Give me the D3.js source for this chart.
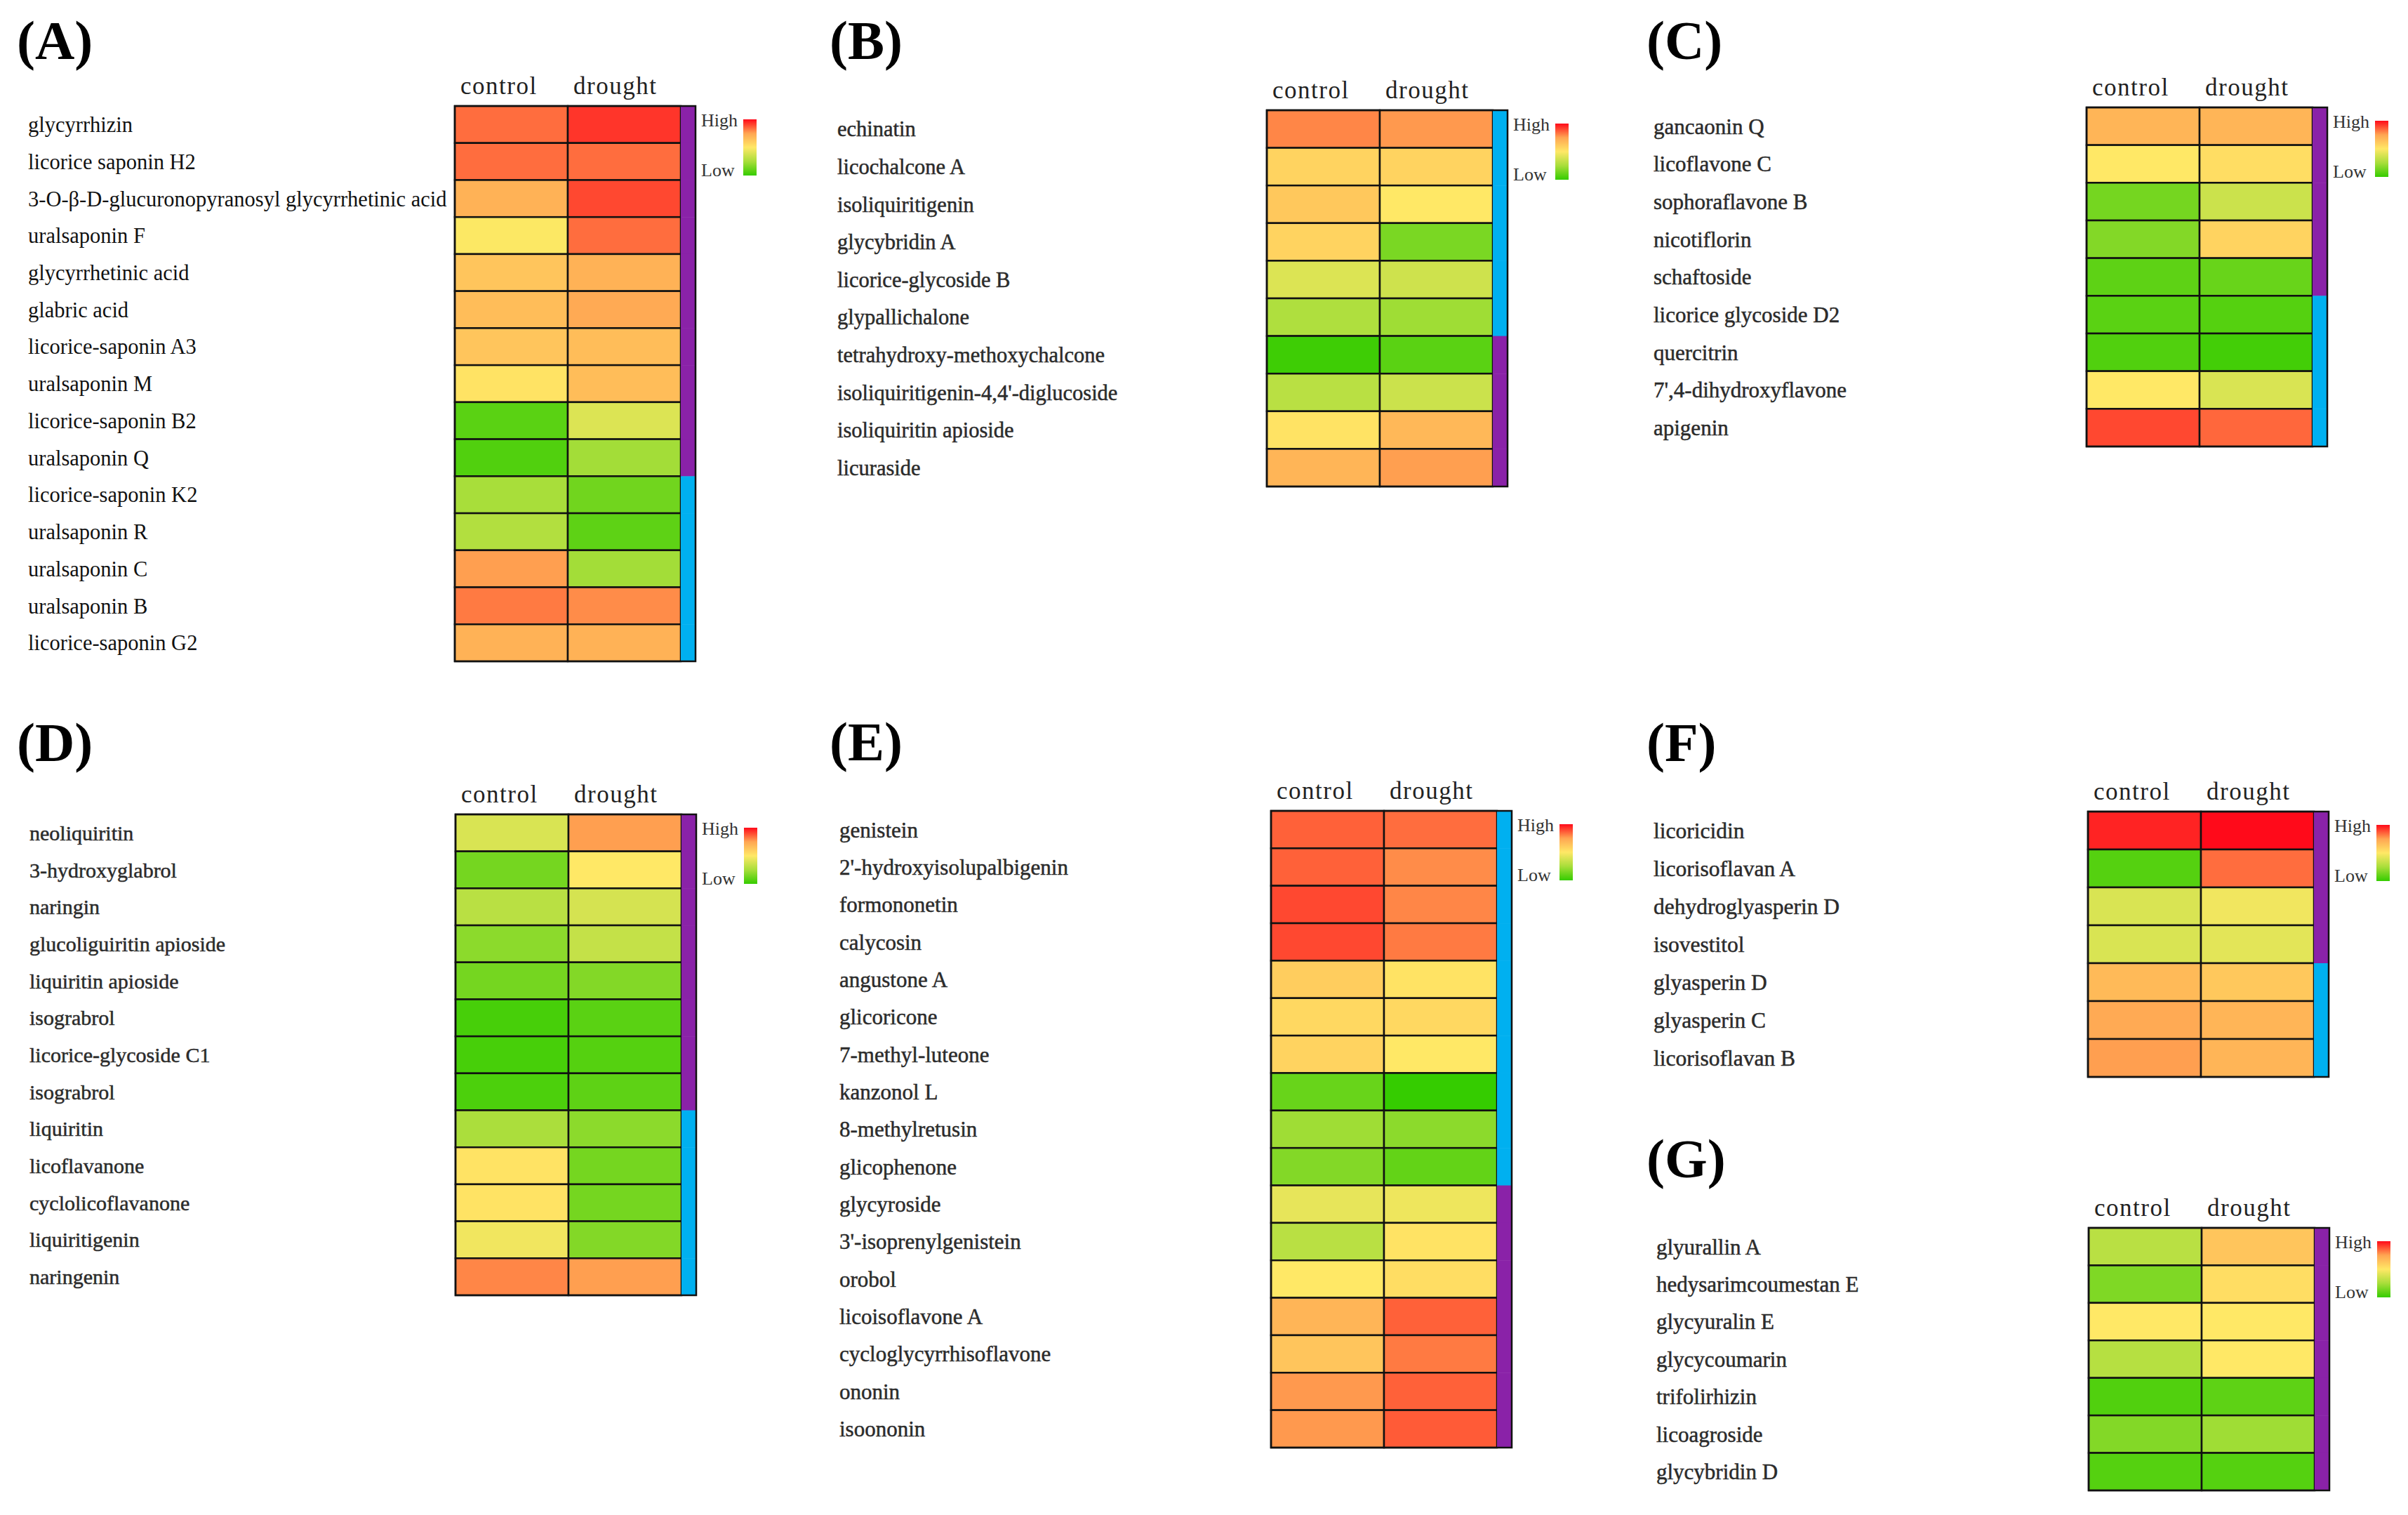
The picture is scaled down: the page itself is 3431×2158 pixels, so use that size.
<!DOCTYPE html>
<html>
<head>
<meta charset="utf-8">
<script src="https://cdn.jsdelivr.net/npm/d3@7"></script>
<style>
  html, body { margin: 0; padding: 0; background: #fff; }
  svg { display: block; }
</style>
</head>
<body>
<svg id="chart" width="3431" height="2158"></svg>
<script>
// ---------------- DATA ----------------
const conditions = ["control", "drought"];

const namesA = ["glycyrrhizin", "licorice saponin H2", "3-O-β-D-glucuronopyranosyl glycyrrhetinic acid", "uralsaponin F", "glycyrrhetinic acid", "glabric acid", "licorice-saponin A3", "uralsaponin M", "licorice-saponin B2", "uralsaponin Q", "licorice-saponin K2", "uralsaponin R", "uralsaponin C", "uralsaponin B", "licorice-saponin G2"];
const controlA = [0.84, 0.84, 0.70, 0.49, 0.63, 0.66, 0.63, 0.52, 0.08, 0.06, 0.25, 0.28, 0.76, 0.82, 0.70];
const droughtA = [0.93, 0.84, 0.90, 0.84, 0.70, 0.73, 0.66, 0.66, 0.40, 0.24, 0.13, 0.09, 0.24, 0.79, 0.70];
const groupA = ["I","I","I","I","I","I","I","I","I","I","II","II","II","II","II"];

const namesB = ["echinatin", "licochalcone A", "isoliquiritigenin", "glycybridin A", "licorice-glycoside B", "glypallichalone", "tetrahydroxy-methoxychalcone", "isoliquiritigenin-4,4'-diglucoside", "isoliquiritin apioside", "licuraside"];
const controlB = [0.80, 0.58, 0.62, 0.58, 0.40, 0.27, 0.02, 0.30, 0.52, 0.69];
const droughtB = [0.77, 0.58, 0.50, 0.15, 0.36, 0.23, 0.08, 0.35, 0.68, 0.76];
const groupB = ["II","II","II","II","II","II","I","I","I","I"];

const namesC = ["gancaonin Q", "licoflavone C", "sophoraflavone B", "nicotiflorin", "schaftoside", "licorice glycoside D2", "quercitrin", "7',4-dihydroxyflavone", "apigenin"];
const controlC = [0.69, 0.50, 0.14, 0.17, 0.09, 0.08, 0.06, 0.50, 0.90];
const droughtC = [0.69, 0.54, 0.35, 0.58, 0.11, 0.07, 0.03, 0.39, 0.85];
const groupC = ["I","I","I","I","I","II","II","II","II"];

const namesD = ["neoliquiritin", "3-hydroxyglabrol", "naringin", "glucoliguiritin apioside", "liquiritin apioside", "isograbrol", "licorice-glycoside C1", "isograbrol", "liquiritin", "licoflavanone", "cyclolicoflavanone", "liquiritigenin", "naringenin"];
const controlD = [0.39, 0.14, 0.30, 0.19, 0.14, 0.04, 0.04, 0.05, 0.26, 0.52, 0.52, 0.46, 0.80];
const droughtD = [0.76, 0.50, 0.38, 0.33, 0.17, 0.08, 0.07, 0.09, 0.19, 0.14, 0.14, 0.17, 0.76];
const groupD = ["I","I","I","I","I","I","I","I","II","II","II","II","II"];

const namesE = ["genistein", "2'-hydroxyisolupalbigenin", "formononetin", "calycosin", "angustone A", "glicoricone", "7-methyl-luteone", "kanzonol L", "8-methylretusin", "glicophenone", "glycyroside", "3'-isoprenylgenistein", "orobol", "licoisoflavone A", "cycloglycyrrhisoflavone", "ononin", "isoononin"];
const controlE = [0.86, 0.86, 0.90, 0.90, 0.60, 0.56, 0.58, 0.11, 0.23, 0.17, 0.43, 0.30, 0.50, 0.69, 0.63, 0.77, 0.77];
const droughtE = [0.84, 0.79, 0.80, 0.82, 0.52, 0.56, 0.50, 0.00, 0.19, 0.10, 0.45, 0.52, 0.54, 0.86, 0.82, 0.86, 0.87];
const groupE = ["II","II","II","II","II","II","II","II","II","II","I","I","I","I","I","I","I"];

const namesF = ["licoricidin", "licorisoflavan A", "dehydroglyasperin D", "isovestitol", "glyasperin D", "glyasperin C", "licorisoflavan B"];
const controlF = [0.96, 0.07, 0.39, 0.39, 0.67, 0.73, 0.76];
const droughtF = [1.00, 0.84, 0.46, 0.42, 0.62, 0.69, 0.69];
const groupF = ["I","I","I","I","II","II","II"];

const namesG = ["glyurallin A", "hedysarimcoumestan E", "glycyuralin E", "glycycoumarin", "trifolirhizin", "licoagroside", "glycybridin D"];
const controlG = [0.30, 0.16, 0.50, 0.29, 0.06, 0.17, 0.07];
const droughtG = [0.63, 0.54, 0.50, 0.50, 0.09, 0.23, 0.07];
const groupG = ["I","I","I","I","I","I","I"];

const legendLabels = ["High", "Low"];

// ---------------- STYLE / LAYOUT ----------------
const colorStops = [0, 0.25, 0.5, 0.75, 1];
const colorRange = ["#35cc00", "#a8de3a", "#ffe866", "#ffa552", "#ff0a1a"];
const color = d3.scaleLinear().domain(colorStops).range(colorRange).interpolate(d3.interpolateRgb);
const groupColor = d3.scaleOrdinal().domain(["I", "II"]).range(["#8a22a8", "#00b0f0"]);

const panels = [
  {id: "A", names: namesA, control: controlA, drought: droughtA, group: groupA, labelX: 40,   heatX: 648,  top: 151,  bottom: 942,  letterX: 24,   letterY: 84,   fs: 30.5, bold: false},
  {id: "B", names: namesB, control: controlB, drought: droughtB, group: groupB, labelX: 1193, heatX: 1805, top: 157,  bottom: 693,  letterX: 1182, letterY: 84,   fs: 30.5, bold: true},
  {id: "C", names: namesC, control: controlC, drought: droughtC, group: groupC, labelX: 2356, heatX: 2973, top: 153,  bottom: 636,  letterX: 2346, letterY: 84,   fs: 31, bold: true},
  {id: "D", names: namesD, control: controlD, drought: droughtD, group: groupD, labelX: 42,   heatX: 649,  top: 1160, bottom: 1845, letterX: 24,   letterY: 1084, fs: 30, bold: true},
  {id: "E", names: namesE, control: controlE, drought: droughtE, group: groupE, labelX: 1196, heatX: 1811, top: 1155, bottom: 2062, letterX: 1182, letterY: 1083, fs: 31, bold: true},
  {id: "F", names: namesF, control: controlF, drought: droughtF, group: groupF, labelX: 2356, heatX: 2975, top: 1156, bottom: 1534, letterX: 2346, letterY: 1084, fs: 31.5, bold: true},
  {id: "G", names: namesG, control: controlG, drought: droughtG, group: groupG, labelX: 2360, heatX: 2976, top: 1749, bottom: 2123, letterX: 2346, letterY: 1677, fs: 31, bold: true}
];

const cellW = 161;
const barW = 21;
const serif = "'Liberation Serif', 'DejaVu Serif', 'Times New Roman', serif";

const svg = d3.select("#chart");
svg.append("rect").attr("width", 3431).attr("height", 2158).attr("fill", "#fff");

// legend gradient
const defs = svg.append("defs");
const grad = defs.append("linearGradient").attr("id", "legendGrad")
  .attr("x1", 0).attr("y1", 1).attr("x2", 0).attr("y2", 0);
colorStops.forEach(s => grad.append("stop").attr("offset", s).attr("stop-color", color(s)));

panels.forEach(p => {
  const g = svg.append("g").attr("class", "panel-" + p.id);
  const n = p.names.length;
  const x = d3.scaleBand().domain(conditions).range([p.heatX, p.heatX + 2 * cellW]);
  const y = d3.scaleBand().domain(d3.range(n)).range([p.top, p.bottom]);
  const barX = p.heatX + 2 * cellW;

  // panel letter
  g.append("text")
    .attr("x", p.letterX).attr("y", p.letterY)
    .attr("font-family", serif).attr("font-size", 78).attr("font-weight", "bold")
    .attr("fill", "#000")
    .text("(" + p.id + ")");

  // column headers
  g.selectAll("text.hdr").data(conditions).join("text")
    .attr("class", "hdr")
    .attr("x", d => x(d) + 8).attr("y", p.top - 17)
    .attr("font-family", serif).attr("font-size", 35)
    .attr("letter-spacing", 1.5)
    .attr("fill", "#222")
    .text(d => d);

  // row labels
  g.selectAll("text.lbl").data(p.names).join("text")
    .attr("class", "lbl")
    .attr("x", p.labelX)
    .attr("y", (d, i) => y(i) + y.bandwidth() / 2)
    .attr("dy", "0.35em")
    .attr("font-family", serif).attr("font-size", p.fs)
    .attr("fill", p.bold ? "#2b2b2b" : "#111")
    .attr("stroke", p.bold ? "#2b2b2b" : "none")
    .attr("stroke-width", p.bold ? 0.5 : 0)
    .text(d => d);

  // cells
  const cells = [];
  p.names.forEach((nm, i) => {
    cells.push({row: i, cond: "control", v: p.control[i]});
    cells.push({row: i, cond: "drought", v: p.drought[i]});
  });
  g.selectAll("rect.cell").data(cells).join("rect")
    .attr("class", "cell")
    .attr("x", d => x(d.cond)).attr("y", d => y(d.row))
    .attr("width", x.bandwidth()).attr("height", y.bandwidth())
    .attr("fill", d => color(d.v))
    .attr("stroke", "#111").attr("stroke-width", 2.5);

  // group side bar
  g.selectAll("rect.grp").data(p.group).join("rect")
    .attr("class", "grp")
    .attr("x", barX).attr("y", (d, i) => y(i))
    .attr("width", barW).attr("height", y.bandwidth() + 0.5)
    .attr("fill", d => groupColor(d));

  // outer frame
  g.append("rect")
    .attr("x", p.heatX).attr("y", p.top)
    .attr("width", 2 * cellW + barW).attr("height", p.bottom - p.top)
    .attr("fill", "none").attr("stroke", "#111").attr("stroke-width", 2.5);

  // legend
  const lx = barX + barW;
  g.append("text").attr("x", lx + 8).attr("y", p.top + 29)
    .attr("font-family", serif).attr("font-size", 26).attr("fill", "#333")
    .text(legendLabels[0]);
  g.append("text").attr("x", lx + 8).attr("y", p.top + 100)
    .attr("font-family", serif).attr("font-size", 26).attr("fill", "#333")
    .text(legendLabels[1]);
  g.append("rect").attr("x", lx + 68).attr("y", p.top + 19)
    .attr("width", 19).attr("height", 80)
    .attr("fill", "url(#legendGrad)");
});
</script>
</body>
</html>
